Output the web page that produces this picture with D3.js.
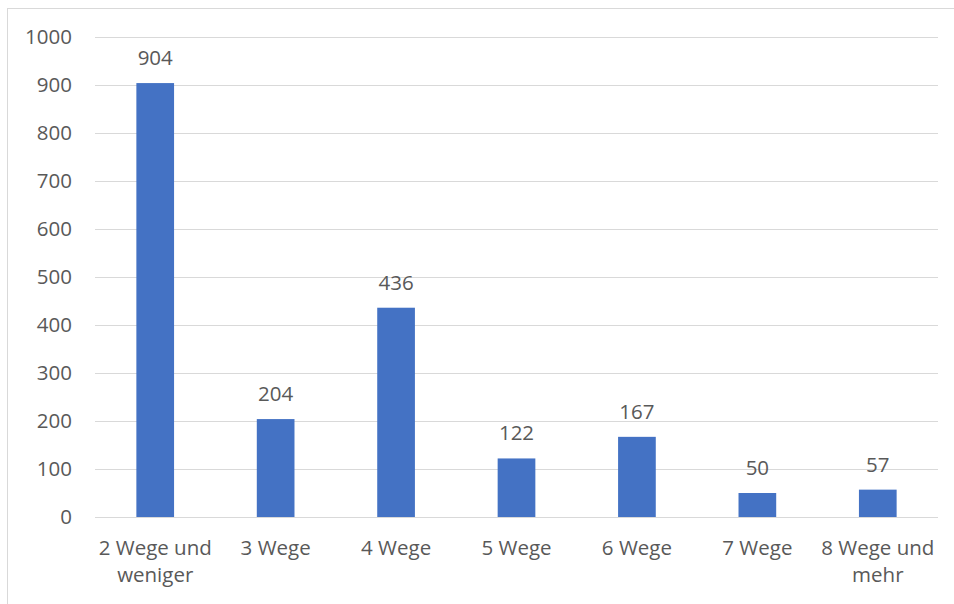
<!DOCTYPE html>
<html>
<head>
<meta charset="utf-8">
<script src="https://cdn.jsdelivr.net/npm/d3@7"></script>
<style>
  html, body { margin: 0; padding: 0; background: #fff; }
  svg { display: block; }
  text { font-family: "Open Sans", "Noto Sans", sans-serif; fill: #595959; }
</style>
</head>
<body>
<svg id="chart" width="954" height="604"></svg>
<script>
const categories = ["2 Wege und weniger", "3 Wege", "4 Wege", "5 Wege", "6 Wege", "7 Wege", "8 Wege und mehr"];
const values = [904, 204, 436, 122, 167, 50, 57];
const yTicks = [0, 100, 200, 300, 400, 500, 600, 700, 800, 900, 1000];

const svg = d3.select("#chart");
const W = 954, H = 604;
const plot = { left: 95, right: 938, top: 37, bottom: 517 };
const FS = "20.5px";

// outer chart border
svg.append("rect")
  .attr("x", 7.5).attr("y", 8.5)
  .attr("width", W).attr("height", H)
  .attr("fill", "none").attr("stroke", "#d9d9d9").attr("stroke-width", 1);

const x = d3.scaleBand()
  .domain(categories)
  .range([plot.left, plot.right])
  .paddingInner(0.687)
  .paddingOuter(0.3435);

const y = d3.scaleLinear()
  .domain([0, 1000])
  .range([plot.bottom, plot.top]);

// gridlines
svg.append("g")
  .selectAll("line")
  .data(yTicks)
  .join("line")
  .attr("x1", plot.left).attr("x2", plot.right)
  .attr("y1", d => Math.round(y(d)) + 0.5)
  .attr("y2", d => Math.round(y(d)) + 0.5)
  .attr("stroke", "#d9d9d9").attr("stroke-width", 1);

// y axis labels
const yAxis = d3.axisLeft(y).tickValues(yTicks).tickSize(0).tickPadding(23).tickFormat(d3.format("d"));
const gy = svg.append("g").attr("transform", `translate(${plot.left},0)`).call(yAxis);
gy.select(".domain").remove();
gy.selectAll("text").attr("font-size", FS).attr("fill", "#595959")
  .style("font-family", '"Open Sans", sans-serif');

// bars
svg.append("g")
  .selectAll("rect")
  .data(values)
  .join("rect")
  .attr("x", (d, i) => x(categories[i]))
  .attr("width", x.bandwidth())
  .attr("y", d => y(d))
  .attr("height", d => y(0) - y(d))
  .attr("fill", "#4472c4");

// data labels
svg.append("g")
  .selectAll("text")
  .data(values)
  .join("text")
  .attr("x", (d, i) => x(categories[i]) + x.bandwidth() / 2)
  .attr("y", d => y(d) - 18)
  .attr("text-anchor", "middle")
  .attr("font-size", FS)
  .attr("fill", "#404040")
  .text(d => d);

// x axis labels with wrapping
const xAxis = d3.axisBottom(x).tickSize(0).tickPadding(0);
const gx = svg.append("g").attr("transform", `translate(0,${plot.bottom})`).call(xAxis);
gx.select(".domain").remove();
gx.selectAll("text")
  .attr("font-size", FS)
  .attr("fill", "#595959")
  .style("font-family", '"Open Sans", sans-serif')
  .each(function(d) {
    const t = d3.select(this);
    const words = d.split(" ");
    const maxW = x.step();
    t.text(null);
    let lines = [];
    let cur = [];
    const probe = t.append("tspan");
    words.forEach(w => {
      const trial = cur.concat([w]).join(" ");
      probe.text(trial);
      if (probe.node().getComputedTextLength() > maxW && cur.length) {
        lines.push(cur.join(" "));
        cur = [w];
      } else {
        cur.push(w);
      }
    });
    lines.push(cur.join(" "));
    probe.remove();
    t.attr("y", null).attr("dy", null);
    lines.forEach((ln, i) => {
      t.append("tspan")
        .attr("x", 0)
        .attr("y", 38 + i * 27)
        .text(ln);
    });
  });
</script>
</body>
</html>
